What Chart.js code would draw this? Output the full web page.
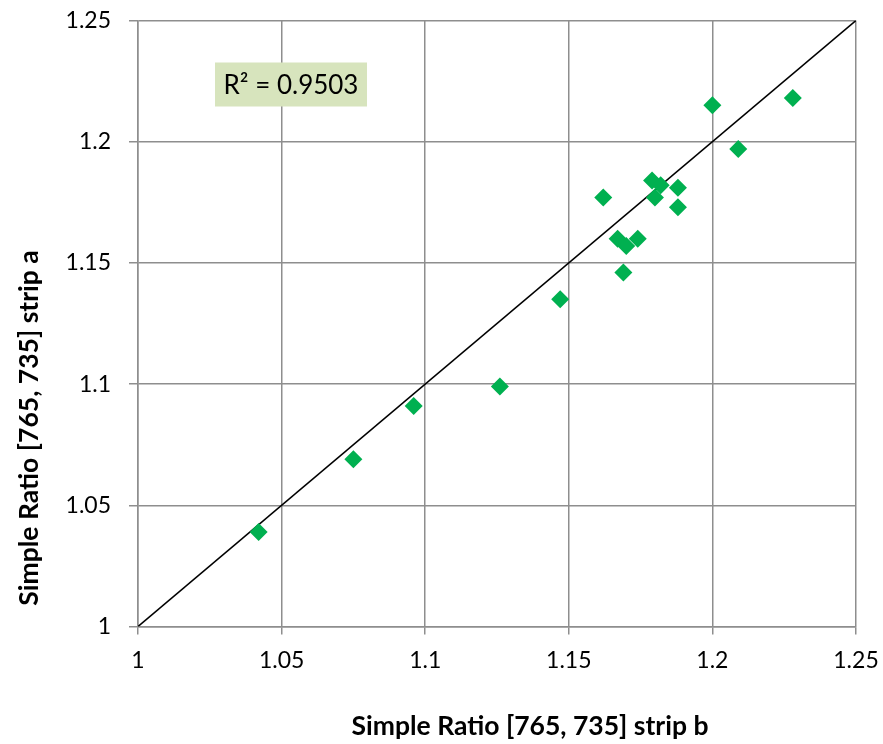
<!DOCTYPE html>
<html>
<head>
<meta charset="utf-8">
<script src="https://cdn.jsdelivr.net/npm/chart.js@4/dist/chart.umd.min.js"></script>
<style>
html,body{margin:0;padding:0;background:#fff;}
#wrap{width:883px;height:744px;}
</style>
</head>
<body>
<div id="wrap"><canvas id="c" width="883" height="744"></canvas></div>
<script>
// Data (strip b on x, strip a on y)
const stripB = [1.042, 1.075, 1.096, 1.126, 1.147, 1.162, 1.167, 1.170, 1.174, 1.169, 1.179, 1.180, 1.182, 1.188, 1.188, 1.200, 1.209, 1.228];
const stripA = [1.039, 1.069, 1.091, 1.099, 1.135, 1.177, 1.160, 1.157, 1.160, 1.146, 1.184, 1.177, 1.182, 1.181, 1.173, 1.215, 1.197, 1.218];
const oneToOneX = [1.0, 1.25];
const oneToOneY = [1.0, 1.25];
const xTicks = [1, 1.05, 1.1, 1.15, 1.2, 1.25];
const yTicks = [1, 1.05, 1.1, 1.15, 1.2, 1.25];
const rSquaredText = 'R\u00B2 = 0.9503';
const xTitle = 'Simple Ratio [765, 735] strip b';
const yTitle = 'Simple Ratio [765, 735] strip a';

const FONT = 'Lato, "Open Sans", sans-serif';
const gridColor = '#8e8e8e';

const points = stripB.map((x, i) => ({x: x, y: stripA[i]}));
const linePts = oneToOneX.map((x, i) => ({x: x, y: oneToOneY[i]}));

const overlay = {
  id: 'overlay',
  afterDraw(chart) {
    const ctx = chart.ctx;
    const ca = chart.chartArea;
    ctx.save();
    // R² box
    const bx = ca.left + 77, by = ca.top + 42, bw = 152, bh = 44;
    ctx.fillStyle = '#d7e4bd';
    ctx.fillRect(bx, by, bw, bh);
    ctx.fillStyle = '#000';
    ctx.font = '26px ' + FONT;
    ctx.textAlign = 'center';
    ctx.textBaseline = 'middle';
    ctx.fillText(rSquaredText, bx + bw / 2, by + bh / 2 + 1);
    // axis titles
    ctx.font = 'bold 26.5px ' + FONT;
    ctx.fillText(xTitle, 530, 726);
    ctx.translate(29, 428);
    ctx.rotate(-Math.PI / 2);
    ctx.fillText(yTitle, 0, 0);
    ctx.restore();
  }
};

new Chart(document.getElementById('c'), {
  type: 'scatter',
  data: {
    datasets: [
      {
        label: 'data',
        data: points,
        pointStyle: 'rectRot',
        pointRadius: 9,
        pointHoverRadius: 9,
        backgroundColor: '#00b050',
        borderColor: '#00b050',
        borderWidth: 0,
        showLine: false,
        order: 1
      },
      {
        label: '1:1',
        data: linePts,
        showLine: true,
        borderColor: '#000',
        borderWidth: 1.6,
        pointRadius: 0,
        fill: false,
        order: 2
      }
    ]
  },
  options: {
    responsive: false,
    animation: false,
    events: [],
    layout: {padding: {top: 20.5, right: 27, left: 0, bottom: 0}},
    plugins: {legend: {display: false}, tooltip: {enabled: false}},
    scales: {
      x: {
        type: 'linear',
        min: 1, max: 1.25,
        afterFit(s) { s.height = 117.5; s.paddingLeft = 0; s.paddingRight = 0; },
        afterBuildTicks(s) { s.ticks = xTicks.map(v => ({value: v})); },
        grid: {color: gridColor, lineWidth: 1.5, tickLength: 8, drawTicks: true},
        border: {color: gridColor, width: 1.5},
        ticks: {
          color: '#000',
          padding: 12,
          maxRotation: 0,
          font: {family: FONT, size: 23},
          callback: v => String(v)
        }
      },
      y: {
        type: 'linear',
        min: 1, max: 1.25,
        afterFit(s) { s.width = 138; s.paddingTop = 0; s.paddingBottom = 0; },
        afterBuildTicks(s) { s.ticks = yTicks.map(v => ({value: v})); },
        grid: {color: gridColor, lineWidth: 1.5, tickLength: 9, drawTicks: true},
        border: {color: gridColor, width: 1.5},
        ticks: {
          color: '#000',
          padding: 18,
          font: {family: FONT, size: 23},
          callback: v => String(v)
        }
      }
    }
  },
  plugins: [overlay]
});
</script>
</body>
</html>
